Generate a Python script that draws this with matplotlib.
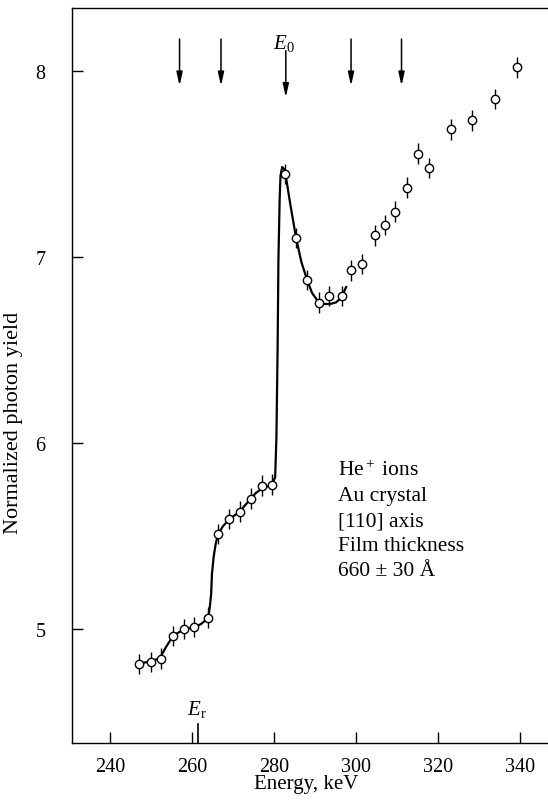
import numpy as np
import matplotlib
matplotlib.use("Agg")
import matplotlib.pyplot as plt

# fonts: Times-like serif everywhere, math in the same family
plt.rcParams["font.family"] = ["Liberation Serif", "DejaVu Serif"]
plt.rcParams["mathtext.fontset"] = "custom"
plt.rcParams["mathtext.rm"] = "Liberation Serif"
plt.rcParams["mathtext.it"] = "Liberation Serif:italic"

# =============================================================
# DATA
# =============================================================

energy = [247.1, 250.0, 252.4, 255.5, 258.2, 260.5, 263.9, 266.4, 269.1,
          271.7, 274.3, 277.1, 279.6, 282.7, 285.4, 288.1, 290.9, 293.5,
          296.5, 298.9, 301.4, 304.6, 307.1, 309.6, 312.4, 315.0, 317.9,
          323.2, 328.3, 333.9, 339.3]
yield_ = [4.81, 4.82, 4.84, 4.96, 5.00, 5.01, 5.06, 5.51, 5.59,
          5.63, 5.70, 5.77, 5.775, 7.445, 7.10, 6.875, 6.753, 6.789,
          6.789, 6.927, 6.961, 7.115, 7.170, 7.242, 7.371, 7.554, 7.477,
          7.685, 7.733, 7.848, 8.018]
yield_err = [0.055] * len(energy)

# hand-drawn guide curve through the low-energy part
curve_e = [247.0, 249.9, 252.2, 253.7, 255.4, 256.9, 258.2, 260.5, 262.2,
           263.5, 264.1, 264.4, 264.7, 264.9, 265.3, 265.8, 266.4, 267.6,
           269.1, 270.5, 271.7, 273.0, 274.3, 275.6, 277.1, 278.6, 279.7,
           280.3, 280.6, 280.9, 281.1, 281.4, 281.6, 282.0, 282.5, 282.9,
           283.9, 285.4, 286.7, 288.1, 289.3, 290.7, 292.2, 293.7, 295.1,
           296.4, 297.6]
curve_y = [4.813, 4.824, 4.842, 4.902, 4.961, 4.982, 4.996, 5.009, 5.025,
           5.049, 5.074, 5.122, 5.186, 5.294, 5.385, 5.455, 5.509, 5.552,
           5.587, 5.611, 5.630, 5.665, 5.697, 5.730, 5.754, 5.767, 5.781,
           5.816, 6.020, 6.504, 6.988, 7.310, 7.434, 7.482, 7.471, 7.434,
           7.294, 7.101, 6.971, 6.875, 6.805, 6.762, 6.746, 6.746, 6.754,
           6.778, 6.837]

# resonance energies marked by arrows at the top
arrow_e = [257.0, 267.1, 298.8, 311.1]
e0 = 282.9
er = 261.4

# =============================================================
# PLOTTING
# =============================================================

fig = plt.figure(figsize=(5.48, 8.03), dpi=100)
ax = fig.add_axes([0.1314, 0.0737, 0.8686, 0.9151])

ax.plot(curve_e, curve_y, color="black", linewidth=1.6, zorder=2)

ax.errorbar(
    energy, yield_, yerr=yield_err,
    fmt="o", color="black", mfc="white", mec="black",
    ms=6, mew=1.0, elinewidth=1.0, capsize=0, zorder=3
)

# arrows
arrow_style = "-|>,head_length=0.8,head_width=0.18"
for e in arrow_e:
    ax.annotate("", xy=(e, 7.919), xytext=(e, 8.170),
                arrowprops=dict(arrowstyle=arrow_style, color="black",
                                lw=1.1, mutation_scale=10,
                                shrinkA=0, shrinkB=0))
ax.annotate("", xy=(e0, 7.857), xytext=(e0, 8.108),
            arrowprops=dict(arrowstyle=arrow_style, color="black",
                            lw=1.1, mutation_scale=10,
                            shrinkA=0, shrinkB=0))
ax.text(e0 - 0.5, 8.154, r"$E_0$", fontsize=15, ha="center", va="center")

# E_r marker on the energy axis
ax.plot([er, er], [4.387, 4.488], color="black", linewidth=1.2,
        clip_on=False)
ax.text(er - 0.3, 4.57, r"$E_\mathrm{r}$", fontsize=15,
        ha="center", va="center")

# annotation block
ax.text(
    295.6, 5.585,
    "He$^+$ ions\nAu crystal\n[110] axis\nFilm thickness\n660 \u00b1 30 \u00c5",
    fontsize=15.5, ha="left", va="center", linespacing=1.42
)

# axes styling
ax.set_xlim(230.79, 346.8)
ax.set_ylim(4.387, 8.337)
ax.set_xticks([240, 260, 280, 300, 320, 340])
ax.set_yticks([5, 6, 7, 8])
ax.tick_params(direction="in", length=8, width=1.0, labelsize=14.5)
ax.tick_params(axis="x", pad=10)
ax.tick_params(axis="y", pad=19)
ax.spines["right"].set_visible(False)
for s in ["left", "top", "bottom"]:
    ax.spines[s].set_linewidth(1.0)

ax.set_xlabel("Energy, keV", fontsize=15)
ax.set_ylabel("Normalized photon yield", fontsize=16)
ax.xaxis.set_label_coords(0.491, -0.0425)
ax.yaxis.set_label_coords(-0.103, 0.436)

fig.savefig("out.png", dpi=100)
